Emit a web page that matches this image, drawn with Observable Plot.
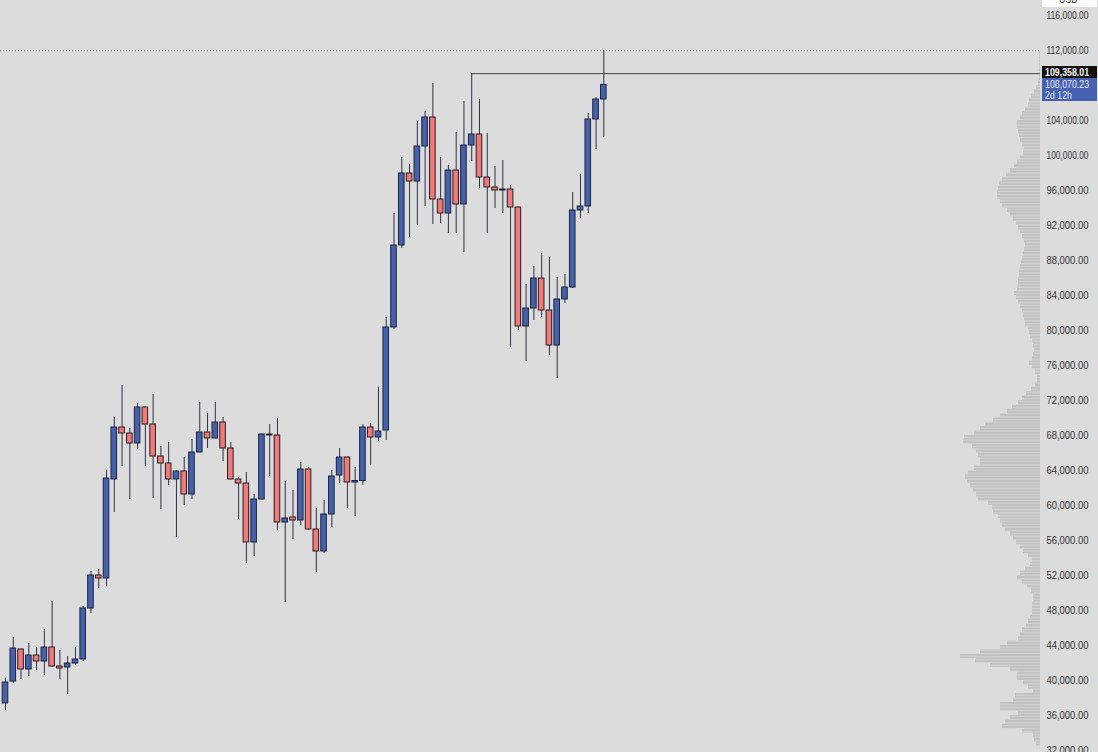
<!DOCTYPE html>
<html><head><meta charset="utf-8">
<script src="https://cdn.jsdelivr.net/npm/d3@7"></script>
<script src="https://cdn.jsdelivr.net/npm/@observablehq/plot@0.6"></script>
<style>
html,body{margin:0;padding:0;background:#dcdcdc;overflow:hidden}
#wrap{position:relative;width:1098px;height:752px;background:#dcdcdc}
#wrap svg{position:absolute;left:0;top:0}
.tag{position:absolute;left:1042px;width:55px;box-sizing:border-box;padding-left:3px;font-family:"Liberation Sans",Arial,sans-serif;font-size:11px;line-height:11px;white-space:nowrap;overflow:hidden}
.tag span{display:inline-block;transform:scaleX(0.8);transform-origin:0 50%}
</style></head><body>
<svg width="0" height="0" style="position:absolute"><defs>
<pattern id="vp" patternUnits="userSpaceOnUse" width="10" height="3"><rect width="10" height="2" fill="#c2c2c2"/><rect y="2" width="10" height="1" fill="#cfcfcf"/></pattern>
</defs></svg>
<div id="wrap"></div>
<script>
// weekly OHLC (index = week number)
const opens  = [37371,39885,43543,41257,42857,42171,43771,41600,41486,41943,42400,48228,52000,51657,62971,68914,68228,67085,71200,69257,65600,64800,62971,63885,61257,66057,68343,67657,69485,66514,62971,62514,55771,60685,68114,68000,58057,58628,58286,64114,57257,54743,58971,63428,65485,62628,62800,68914,67771,68571,80343,89714,97943,97028,101028,104343,94971,93371,98285,94400,101143,102400,97485,96343,96000,96114,94057,80457,82514,85943,82285,78285,83543,84914,93714,94171,104114,106400];
const highs  = [40228,44914,43600,44228,43771,45828,49028,43428,42743,43771,48457,52457,52685,64000,70057,73714,68800,71657,71250,72685,66743,67200,63950,65485,67543,71771,70514,71771,70057,67200,63200,63771,61257,68200,69257,69943,62743,61714,64914,64343,59657,60571,64000,66514,65550,64343,69257,69371,73485,81485,93371,99771,98971,103885,105028,108228,99771,98857,102628,106171,109358.01,106400,102514,98743,99428,96571,94100,85257,87314,88800,88343,86057,86400,95771,97828,104800,106628,111970];
const lows   = [36571,39657,40114,40457,41143,40571,41486,40114,38400,41714,42171,47657,50514,50743,59200,64457,60685,66400,64457,60800,59543,62285,56343,60000,60685,66000,66514,67600,65028,62900,58400,53371,54171,60600,63314,57143,48914,56114,57714,57200,52343,54514,57485,62514,59657,58743,62285,64628,67314,67428,80114,89371,90628,92000,94171,92114,92228,91085,91085,88914,99314,96228,91085,93943,93371,78057,80000,76457,81143,81485,77143,74514,83085,84800,92800,93371,100685,102057];
const closes = [39771,43657,41257,42857,42171,43771,41600,41371,41943,42400,48228,52000,51657,63085,68914,68228,67085,71200,69257,65600,64800,62971,63885,61257,66057,68343,67657,69485,66514,62971,62514,55771,60685,68114,68000,58057,58514,58286,64114,57257,54743,58971,63314,65485,62628,62800,68914,67771,68457,80343,89714,97943,97028,101028,104343,94971,93371,98285,94400,101143,102400,97485,96343,96000,96114,94057,80457,82514,85943,82285,78285,83543,84914,93714,94171,104114,106400,108070.23];

// volume profile (bins of 500 USD starting at profileStart)
const profileStart = 32000, profileStep = 500;
const profileVolumes = [0,4,6,7,18,38,35,30,22,40, 40,27,25,7,12,17,23,23,30,50, 65,80,60,40,33,22,20,18,14,12, 10,8,8,8,7,7,9,13,18,23, 20,15,10,8,12,17,20,24,27,30, 35,38,40,42,47,48,52,62,64,67, 70,73,75,72,66,60,60,62,64,68, 77,76,66,60,55,47,40,33,28,22, 18,14,9,5,3,3,5,8,11,8, 7,6,7,8,10,11,12,15,16,17, 18,20,22,24,26,23,22,22,21,21, 20,19,18,17,16,15,16,18,20,22, 24,27,30,33,38,40,43,43,42,41, 38,34,30,26,23,20,17,16,18,20, 21,22,23,23,20,18,15,12,11,9, 6,4,2,1,1,1,1,1,1,1];

// visible price-axis labels (108,000 is hidden behind the live-price tag)
const priceTicks = [32000,36000,40000,44000,48000,52000,56000,60000,64000,68000,72000,76000,80000,84000,88000,92000,96000,100000,104000,112000,116000];
const timeLeft = "2d 12h";
const unit = "USD";

const candles = opens.map((o, i) => ({i, open: o, high: highs[i], low: lows[i], close: closes[i]}));
const profile = profileVolumes.map((v, k) => ({p: profileStart + k * profileStep, vol: v}));
const last = candles[candles.length - 1];
const prev = candles.slice(0, -1);
const athIdx = d3.maxIndex(prev, d => d.high);
const ath = prev[athIdx];

const W = 1098, H = 752;
const X_DOMAIN = [-0.6435, 133.2];
const Y_DOMAIN = [31771, 117714];
const fmt = d3.format(",.2f");

const profPlot = Plot.plot({
  width: W, height: H, marginLeft: 0, marginRight: 58, marginTop: 0, marginBottom: 0,
  style: {background: "transparent"},
  x: {domain: [0, 100], range: [1040, 940], axis: null},
  y: {domain: Y_DOMAIN, axis: null},
  marks: [
    Plot.rectX(profile, {x: "vol", y1: "p", y2: d => d.p + profileStep, fill: "url(#vp)"})
  ]
});

const plot = Plot.plot({
  width: W, height: H, marginLeft: 0, marginRight: 58, marginTop: 0, marginBottom: 0,
  style: {background: "transparent", fontFamily: "'Liberation Sans',Arial,sans-serif", fontSize: "10.5px", color: "#333"},
  x: {domain: X_DOMAIN, axis: null},
  y: {domain: Y_DOMAIN, axis: null},
  marks: [
    Plot.ruleY([last.high], {stroke: "#7d7d85", strokeDasharray: "1,2", strokeWidth: 1}),
    Plot.ruleY([ath], {y: "high", x1: "i", x2: () => X_DOMAIN[1], stroke: "#4a4a4a", strokeWidth: 1}),
    Plot.ruleX(candles, {x: "i", y1: "low", y2: "high", stroke: "#2b3148", strokeWidth: 1}),
    Plot.rect(candles, {filter: d => d.close >= d.open, x1: d => d.i - 0.36, x2: d => d.i + 0.36, y1: "open", y2: "close", fill: "#4660aa", stroke: "#1c2440", strokeWidth: 1}),
    Plot.rect(candles, {filter: d => d.close < d.open, x1: d => d.i - 0.36, x2: d => d.i + 0.36, y1: "open", y2: "close", fill: "#f07a7a", stroke: "#2a1c24", strokeWidth: 1}),
    Plot.axisY(priceTicks, {anchor: "right", tickSize: 0, tickPadding: 6, tickFormat: fmt, fill: "#333", fontSize: 10.5})
  ]
});

// condense the price-axis labels like the reference's narrow font
d3.select(plot).selectAll("g[aria-label='y-axis tick label'] text")
  .attr("textLength", 42).attr("lengthAdjust", "spacingAndGlyphs");

const wrap = document.getElementById("wrap");
wrap.appendChild(profPlot);
wrap.appendChild(plot);

const ys = plot.scale("y");
function tag(top, h, bg, color, lines, weight) {
  const d = document.createElement("div");
  d.className = "tag";
  d.style.top = top + "px"; d.style.height = h + "px";
  d.style.background = bg; d.style.color = color; d.style.fontWeight = weight || "normal";
  lines.forEach((t, k) => {
    const s = document.createElement("span");
    s.textContent = t;
    d.appendChild(s);
    if (k < lines.length - 1) d.appendChild(document.createElement("br"));
  });
  wrap.appendChild(d);
  return d;
}
const yAth = ys.apply(ath.high);
const t1 = tag(yAth - 7, 13, "#111", "#fff", [fmt(ath.high)], "bold");
t1.style.paddingTop = "1px";
const yLast = ys.apply(last.close);
const t2 = tag(yLast - 6, 23, "#4762b0", "#e6ebff", [fmt(last.close), timeLeft], "normal");
t2.style.paddingTop = "1px";
const t3 = tag(-6, 13, "#fff", "#333", [unit], "normal");
t3.style.textAlign = "center";
</script>
</body></html>
